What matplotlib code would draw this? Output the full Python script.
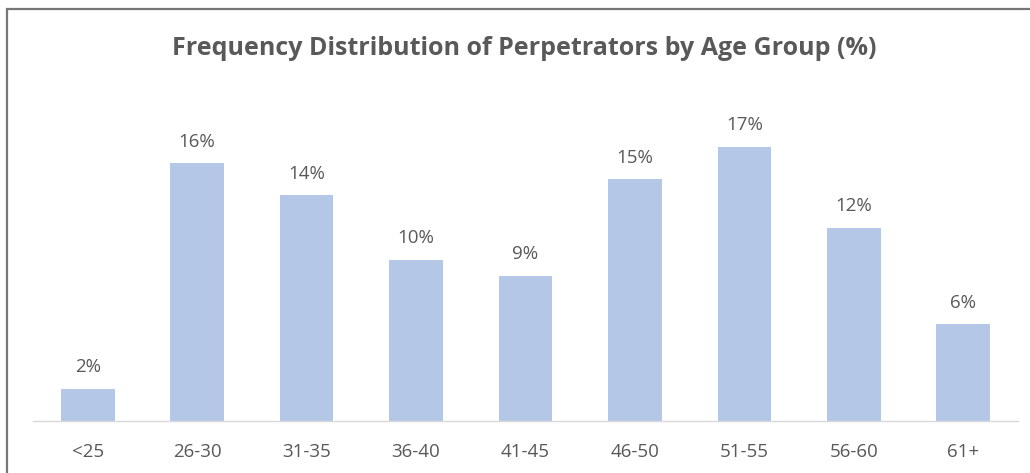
import matplotlib
matplotlib.use("Agg")
import matplotlib.pyplot as plt
from matplotlib.patches import Rectangle

age_groups = ["<25", "26-30", "31-35", "36-40", "41-45", "46-50", "51-55", "56-60", "61+"]
percentages = [2, 16, 14, 10, 9, 15, 17, 12, 6]

BAR_COLOR = "#b4c7e7"
TEXT_COLOR = "#595959"

plt.rcParams["font.family"] = ["Open Sans", "DejaVu Sans"]

fig = plt.figure(figsize=(10.3, 4.73), dpi=100)
ax = fig.add_axes([33 / 1030, 52 / 473, 985 / 1030, 311 / 473])

bars = ax.bar(range(len(age_groups)), percentages, width=0.49, color=BAR_COLOR)
for bar, value in zip(bars, percentages):
    ax.annotate(f"{value}%", (bar.get_x() + bar.get_width() / 2, bar.get_height()),
                xytext=(0, 12), textcoords="offset points", ha="center", va="baseline",
                fontsize=13.5, color=TEXT_COLOR)

ax.set_xlim(-0.5, len(age_groups) - 0.5)
ax.set_ylim(0, 19.3)
ax.set_xticks(range(len(age_groups)))
ax.set_xticklabels(age_groups, fontsize=13.5, color=TEXT_COLOR, va="baseline")
ax.tick_params(axis="x", length=0, pad=26)
ax.set_yticks([])
for side in ("top", "left", "right"):
    ax.spines[side].set_visible(False)
ax.spines["bottom"].set_color("#d9d9d9")
ax.spines["bottom"].set_linewidth(1.0)

fig.text(524 / 1030, 1 - 55 / 473, "Frequency Distribution of Perpetrators by Age Group (%)",
         ha="center", va="baseline", fontsize=18, fontweight="bold", color=TEXT_COLOR)

# outer frame: only top and left edges fall inside the canvas
fig.patches.append(Rectangle((7 / 1030, -0.1), 1.2, 1 - 9 / 473 + 0.1, transform=fig.transFigure,
                             fill=False, edgecolor="#767676", linewidth=1.6))

fig.savefig("out.png", dpi=100)
